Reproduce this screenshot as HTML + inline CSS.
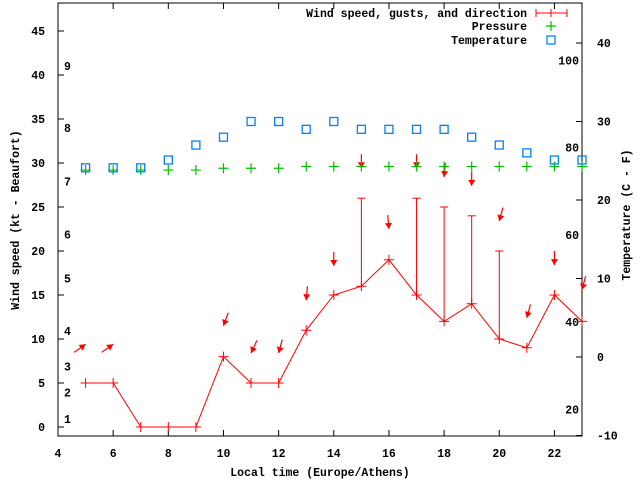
<!DOCTYPE html>
<html><head><meta charset="utf-8"><style>
body{margin:0;background:#fff}
text{font-family:"Liberation Mono",monospace;font-weight:bold;font-size:11.5px;fill:#000}
</style></head><body>
<svg id="c" width="640" height="480" xmlns="http://www.w3.org/2000/svg"></svg>
<script>
const hours=[5,6,7,8,9,10,11,12,13,14,15,16,17,18,19,20,21,22,23];
const windKt=[5,5,0,0,0,8,5,5,11,15,16,19,15,12,14,10,9,15,12];
const gustHours=[15,17,18,19,20];
const gustKt=[26,26,25,24,20];
const pressure=[29.2,29.2,29.2,29.2,29.2,29.4,29.4,29.4,29.6,29.6,29.6,29.6,29.6,29.6,29.6,29.6,29.6,29.6,29.6];
const tempC=[24.1,24.1,24.1,25.1,27,28,30,30,29,30,29,29,29,29,28,27,26,25.1,25.1];
const arrowHours=[5,6,10,11,12,13,14,15,16,17,18,19,20,21,22,23];
const arrowKt=[9.4,9.4,11.5,8.4,8.4,14.4,18.3,29.4,22.5,29.4,28.4,27.4,23.4,12.4,18.4,15.6];
const arrowDeg=[55,55,200,205,195,185,180,180,175,180,185,180,195,195,180,195];
const xTicks=[4,6,8,10,12,14,16,18,20,22];
const yTicks=[0,5,10,15,20,25,30,35,40,45];
const cTicks=[-10,0,10,20,30,40];
const fTicks=[20,40,60,80,100];
const bftLabels=["1","2","3","4","5","6","7","8","9"];
const bftKt=[0.9,3.9,6.9,10.9,16.9,21.9,27.9,34,41];

const L=58,R=582,T=3,B=436;
const X=h=>L+(h-4)*(R-L)/19;
const Y=v=>427-v*8.8;
const YC=t=>357-t*7.85;
const svg=document.getElementById('c');
const NS='http://www.w3.org/2000/svg';
function mk(tag,attrs,parent){const e=document.createElementNS(NS,tag);for(const k in attrs)e.setAttribute(k,attrs[k]);(parent||svg).appendChild(e);return e;}
function txt(x,y,s,anchor){const e=mk('text',{x:x,y:y,'text-anchor':anchor||'start'});e.textContent=s;return e;}

// frame
let f=mk('rect',{x:L,y:T,width:R-L,height:B-T,fill:'none',stroke:'#000','stroke-width':1});

xTicks.forEach(h=>{const x=X(h);mk('line',{x1:x,y1:B,x2:x,y2:B-6,stroke:'#000'});mk('line',{x1:x,y1:T,x2:x,y2:T+6,stroke:'#000'});
 const t=txt(x,457,String(h),'middle');});
yTicks.forEach(v=>{const y=Y(v);mk('line',{x1:L,y1:y,x2:L+6,y2:y,stroke:'#000'});
 const t=txt(45,y+4,String(v),'end');});
cTicks.forEach(v=>{const y=YC(v);mk('line',{x1:R,y1:y,x2:R-6,y2:y,stroke:'#000'});
 const t=txt(597,y+4,String(v),'start');});
fTicks.forEach(v=>{const y=YC((v-32)/1.8);const t=txt(579,y+4,String(v),'end');});
bftLabels.forEach((s,i)=>{const t=txt(64,Y(bftKt[i])+4,s,'start');});

// titles
let t1=txt(320,476,'Local time (Europe/Athens)','middle');
let t2=txt(0,0,'Wind speed (kt - Beaufort)','middle');t2.setAttribute('transform','translate(19,220) rotate(-90)');
let t3=txt(0,0,'Temperature (C - F)','middle');t3.setAttribute('transform','translate(630,215) rotate(-90)');

// gust bars
gustHours.forEach((h,i)=>{const idx=hours.indexOf(h);const x=X(h),y1=Y(windKt[idx]),y2=Y(gustKt[i]);
 const g=mk('g',{stroke:'#f00','stroke-width':1});
 mk('line',{x1:x,y1:y1,x2:x,y2:y2},g);mk('line',{x1:x-4,y1:y2,x2:x+4,y2:y2},g);});
// wind line
let pts=hours.map((h,i)=>X(h)+','+Y(windKt[i])).join(' ');
let wl=mk('polyline',{points:pts,fill:'none',stroke:'#f00','stroke-width':1});
hours.forEach((h,i)=>{const x=X(h),y=Y(windKt[i]);const g=mk('path',{d:`M${x-5},${y}h10M${x},${y-5}v10`,stroke:'#f00'});});
// arrows
arrowHours.forEach((h,i)=>{const hx=X(h),hy=Y(arrowKt[i]);const a=arrowDeg[i]*Math.PI/180;const dx=Math.sin(a),dy=-Math.cos(a);const len=14;
 const tx=hx-dx*len,ty=hy-dy*len;const px=-dy,py=dx;
 const g=mk('g',{});
 mk('line',{x1:tx,y1:ty,x2:hx,y2:hy,stroke:'#f00','stroke-width':1.2},g);
 mk('polygon',{points:`${hx},${hy} ${hx-dx*6+px*3.5},${hy-dy*6+py*3.5} ${hx-dx*6-px*3.5},${hy-dy*6-py*3.5}`,fill:'#f00'},g);});
// pressure
hours.forEach((h,i)=>{const x=X(h),y=Y(pressure[i]);const p=mk('path',{d:`M${x-5},${y}h10M${x},${y-5}v10`,stroke:'#00c000','stroke-width':1.2});});
// temperature
hours.forEach((h,i)=>{const x=X(h),y=YC(tempC[i]);const r=mk('rect',{x:x-4,y:y-4,width:8,height:8,fill:'none',stroke:'#0080ff','stroke-width':1.3});});

// legend
let l1=txt(527,17,'Wind speed, gusts, and direction','end');
mk('path',{d:'M536,13h31M536,9v8M551,9v8M567,9v8',stroke:'#f00',fill:'none'});
let l2=txt(527,30,'Pressure','end');
mk('path',{d:'M546,26h10M551,21v10',stroke:'#00c000','stroke-width':1.2});
let l3=txt(527,44,'Temperature','end');
mk('rect',{x:547,y:36,width:8,height:8,fill:'none',stroke:'#0080ff','stroke-width':1.3});
</script>
</body></html>
